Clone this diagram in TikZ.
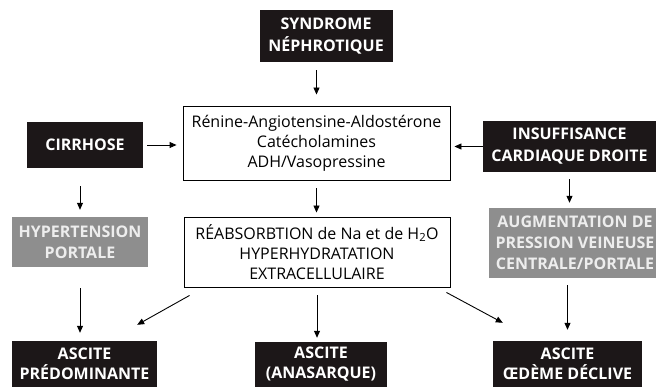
\documentclass[tikz,border=0pt]{standalone}
\usepackage{fontspec}
\setmainfont{Open Sans}
\usetikzlibrary{calc,arrows.meta}
\definecolor{boxnoir}{HTML}{1C1718}
\definecolor{boxgris}{HTML}{8E8E8E}
\definecolor{textgris}{HTML}{EDEDED}
\tikzset{
  noir/.style = {fill = boxnoir, text = white, font = \bfseries\fontsize{16}{22}\selectfont, align = center, inner sep = 0pt},
  gris/.style = {fill = boxgris, text = textgris, font = \bfseries\fontsize{16}{21}\selectfont, align = center, inner sep = 0pt},
  blanc/.style = {draw, line width = 0.9pt, fill = white, font = \fontsize{16}{20}\selectfont, align = center, inner sep = 0pt},
  fleche/.style = {draw, line width = 0.9pt, -{Triangle[length=7pt, width=6pt]}}
}
\begin{document}
\begin{tikzpicture}[x = 1pt, y = -1pt]
            \useasboundingbox (0,0) rectangle (656,387);
            \clip (0,0) rectangle (656,387);
            % haut
            \node[noir, minimum width = 133, minimum height = 52](synd)at(326,36){SYNDROME\\NÉPHROTIQUE};
            \node[blanc, minimum width = 267, minimum height = 74](horm)at(316.5,143){Rénine-Angiotensine-Aldostérone\\Catécholamines\\ADH/Vasopressine};
            % gauche
            \node[noir, minimum width = 116, minimum height = 46](cirrh)at(85,145){CIRRHOSE};
            \node[gris, minimum width = 136, minimum height = 50](hta)at(80,242){HYPERTENSION\\PORTALE};
            % droite
            \node[noir, minimum width = 173, minimum height = 51](insuf)at(569.5,146.5){INSUFFISANCE\\CARDIAQUE DROITE};
            \node[gris, minimum width = 172, minimum height = 70](augm)at(575,243){AUGMENTATION DE\\PRESSION VEINEUSE\\CENTRALE/PORTALE};
            % milieu
            \node[blanc, minimum width = 266, minimum height = 70](reabs)at(317,252){RÉABSORBTION de Na et de H\textsubscript{2}O\\HYPERHYDRATATION\\EXTRACELLULAIRE};
            % ascites
            \node[noir, font = \bfseries\fontsize{16}{20}\selectfont, minimum width = 145, minimum height = 46](asc1)at(84.5,364){ASCITE\\PRÉDOMINANTE};
            \node[noir, font = \bfseries\fontsize{16}{20}\selectfont, minimum width = 132, minimum height = 45](asc2)at(321,364.5){ASCITE\\(ANASARQUE)};
            \node[noir, font = \bfseries\fontsize{16}{20}\selectfont, minimum width = 149, minimum height = 46](asc3)at(567.5,364){ASCITE\\ŒDÈME DÉCLIVE};
            % flèches
            \path[fleche, shorten <= 8pt, shorten >= 11pt](horm.north |- synd.south)to(horm.north);
            \path[fleche, shorten <= 4pt, shorten >= 6pt](cirrh.east)to(cirrh.east -| horm.west);
            \path[fleche, shorten >= 4pt](insuf.west)to(insuf.west -| horm.east);
            \path[fleche, shorten <= 18pt, shorten >= 7pt](hta.north |- cirrh.south)to(hta.north);
            \path[fleche, shorten <= 8pt, shorten >= 4pt](horm.south)to(horm.south |- reabs.north);
            \path[fleche, shorten <= 7pt, shorten >= 5pt](insuf.south)to(insuf.south |- augm.north);
            \path[fleche, shorten <= 21pt, shorten >= 8pt](hta.south)to(asc1.north -| hta.south);
            \path[fleche]($(reabs.south west)+(6,8)$)to($(asc1.north east)+(-20,-16)$);
            \path[fleche, shorten <= 8pt, shorten >= 4pt](reabs.south)to(asc2.north -| reabs.south);
            \path[fleche]($(reabs.south east)+(-4,5)$)to($(asc3.north west)+(10,-18)$);
            \path[fleche, shorten <= 7pt, shorten >= 11pt](augm.south -| asc3.north)to(asc3.north);
        \end{tikzpicture}
\end{document}
